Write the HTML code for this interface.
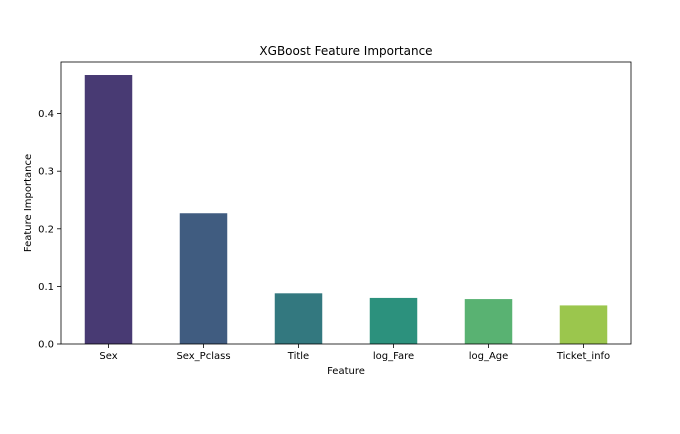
<!DOCTYPE html>
<html><head><meta charset="utf-8"><style>
body{margin:0;background:#fff;}
svg text{font-family:"DejaVu Sans","Liberation Sans",sans-serif;fill:#000;}
</style></head><body>
<svg id="chart" width="680" height="429">
<rect width="680" height="429" fill="#fff"/>
<text x="346" y="55" font-size="12" text-anchor="middle">XGBoost Feature Importance</text>
<g id="bars"></g>
<g id="axes"></g>
<text x="346" y="374" font-size="10" text-anchor="middle">Feature</text>
<text transform="translate(31,203) rotate(-90)" font-size="10" text-anchor="middle">Feature Importance</text>
</svg>
<script>
const categories=["Sex","Sex_Pclass","Title","log_Fare","log_Age","Ticket_info"];
const values=[0.467,0.227,0.088,0.080,0.078,0.067];
const colors=["#483a73","#405c80","#33787f","#2c917d","#59b272","#9bc64d"];
const yTicks=[0,0.1,0.2,0.3,0.4];
const yTickLabels=["0.0","0.1","0.2","0.3","0.4"];
const L=61,R=631,T=62,B=344,pxPerUnit=576;
const ns="http://www.w3.org/2000/svg";
const y=v=>B-v*pxPerUnit;
const step=(R-L)/categories.length;
const x=i=>L+step*(i+0.5);
const bw=step*0.5;
const bars=document.getElementById('bars'),axes=document.getElementById('axes');
function mk(t,a,p){const e=document.createElementNS(ns,t);for(const k in a)e.setAttribute(k,a[k]);p.appendChild(e);return e;}
values.forEach((v,i)=>{
 const r=mk('rect',{x:x(i)-bw/2,y:y(v),width:bw,height:B-y(v),fill:colors[i]},bars);
 
 
 mk('line',{x1:x(i),x2:x(i),y1:B,y2:B+4,stroke:'#000','stroke-width':0.8},axes);
 const t=mk('text',{x:x(i),y:B+15,'font-size':10,'text-anchor':'middle'},axes);
 t.textContent=categories[i];
 
 
});
yTicks.forEach((v,i)=>{
 mk('line',{x1:L-4,x2:L,y1:y(v),y2:y(v),stroke:'#000','stroke-width':0.8},axes);
 const t=mk('text',{x:L-7,y:y(v)+3.5,'font-size':10,'text-anchor':'end'},axes);
 t.textContent=yTickLabels[i];
 
 
});
const f=mk('rect',{x:L,y:T,width:R-L,height:B-T,fill:'none',stroke:'#000','stroke-width':0.8},axes);


</script>
</body></html>
